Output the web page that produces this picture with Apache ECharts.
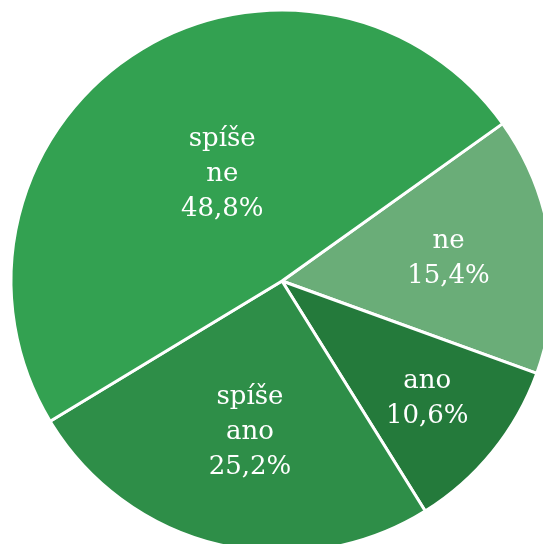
<!DOCTYPE html>
<html lang="cs">
<head>
    <meta charset="utf-8">
    <script src="https://cdn.jsdelivr.net/npm/echarts@6/dist/echarts.min.js"></script>
    <style>
        html, body { margin: 0; padding: 0; background: #fff; }
    </style>
</head>
<body>
<div id="pie" style="width: 543px;height:544px;"></div>
<script type="text/javascript">
    // data (clockwise from the start angle)
    var categories = ['ne', 'ano', 'spíše ano', 'spíše ne'];
    var values = [15.4, 10.6, 25.2, 48.8];
    var colors = ['#6aad78', '#247a3b', '#2e8e48', '#33a151'];
    // where each label sits: fraction of the radius, and angle tweak (deg)
    var labelDist = [0.62, 0.69, 0.57, 0.45];
    var labelTurn = [0, 0, 1.5, -4];

    var cx = 282, cy = 281, R = 271, startAngle = 35.5;

    var pieData = categories.map(function (c, i) {
        return { name: c, value: values[i], itemStyle: { color: colors[i] } };
    });

    var chart = echarts.init(document.getElementById('pie'));
    var total = values.reduce(function (a, b) { return a + b; }, 0);

    chart.setOption({
        animation: false,
        series: [{
            type: 'pie',
            center: [cx, cy],
            radius: [0, R],
            startAngle: startAngle,
            clockwise: true,
            avoidLabelOverlap: false,
            itemStyle: { borderColor: '#fff', borderWidth: 3 },
            label: {
                show: true,
                position: 'inside',
                color: '#fff',
                fontFamily: 'DejaVu Serif',
                fontSize: 26,
                lineHeight: 35,
                align: 'center',
                formatter: function (p) {
                    return p.name.split(' ').join('\n') + '\n' + p.value.toFixed(1).replace('.', ',') + '%';
                }
            },
            labelLayout: function (p) {
                var before = 0;
                for (var k = 0; k < p.dataIndex; k++) before += values[k];
                var mid = startAngle - (before + values[p.dataIndex] / 2) / total * 360 + labelTurn[p.dataIndex];
                var a = mid * Math.PI / 180;
                var r = R * labelDist[p.dataIndex];
                return { x: cx + r * Math.cos(a), y: cy - r * Math.sin(a), align: 'center', verticalAlign: 'middle' };
            },
            data: pieData
        }]
    });
</script>
</body>
</html>
